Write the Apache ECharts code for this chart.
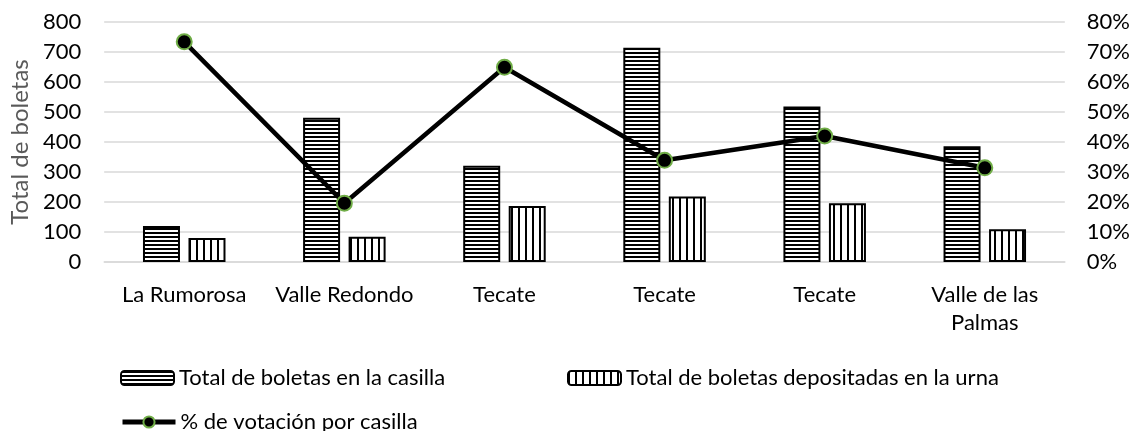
<!DOCTYPE html>
<html>
<head>
<meta charset="utf-8">
<script src="https://cdn.jsdelivr.net/npm/echarts@6/dist/echarts.min.js"></script>
<style>
  html, body { margin: 0; padding: 0; background: #fff; }
  #chart { width: 1133px; height: 431px; }
</style>
</head>
<body>
<div id="chart"></div>
<script>
// Polling stations
const categories = ['La Rumorosa', 'Valle Redondo', 'Tecate', 'Tecate', 'Tecate', 'Valle de las Palmas'];
// Ballots in each station
const totalBoletas = [120, 481, 321, 714, 518, 386];
// Ballots cast into the ballot box
const depositadas = [80, 84, 187, 218, 196, 109];
// Turnout per station (fraction)
const votacion = [0.734, 0.196, 0.649, 0.339, 0.42, 0.314];
// Axis ticks
const leftTicks = [0, 100, 200, 300, 400, 500, 600, 700, 800];
const rightTicks = [0, 0.1, 0.2, 0.3, 0.4, 0.5, 0.6, 0.7, 0.8];

const seriesNames = [
  'Total de boletas en la casilla',
  'Total de boletas depositadas en la urna',
  '% de votación por casilla'
];

// Striped fills: horizontal lines and vertical lines
function stripePattern(horizontal) {
  const c = document.createElement('canvas');
  if (horizontal) {
    c.width = 8; c.height = 4;
    const g = c.getContext('2d');
    g.fillStyle = '#fff'; g.fillRect(0, 0, 8, 4);
    g.fillStyle = '#000'; g.fillRect(0, 0, 8, 2);
  } else {
    c.width = 7; c.height = 8;
    const g = c.getContext('2d');
    g.fillStyle = '#fff'; g.fillRect(0, 0, 7, 8);
    g.fillStyle = '#000'; g.fillRect(0, 0, 2, 8);
  }
  return { image: c, repeat: 'repeat' };
}

const FONT = 'Lato';
const FS = 22;
const chart = echarts.init(document.getElementById('chart'), null, { renderer: 'canvas' });

const legendBase = {
  itemWidth: 53,
  itemHeight: 14,
  itemGap: 0,
  textStyle: { fontFamily: FONT, fontSize: FS, color: '#000' },
  selectedMode: false
};

chart.setOption({
  animation: false,
  backgroundColor: '#fff',
  grid: { left: 103, right: 65, top: 22, bottom: 169 },
  legend: [
    Object.assign({}, legendBase, { data: [seriesNames[0]], left: 115, top: 362 }),
    Object.assign({}, legendBase, { data: [seriesNames[1]], left: 562, top: 362 }),
    Object.assign({}, legendBase, {
      data: [seriesNames[2]], left: 115, top: 406,
      lineStyle: { color: '#000', width: 5 },
      itemStyle: { color: '#000', borderColor: '#70ad47', borderWidth: 2 }
    })
  ],
  xAxis: {
    type: 'category',
    data: categories,
    axisLine: { lineStyle: { color: '#d9d9d9', width: 1.5 } },
    axisTick: { show: false },
    axisLabel: {
      fontFamily: FONT, fontSize: FS, color: '#000', margin: 19, lineHeight: 28,
      interval: 0,
      formatter: function (v) {
        if (v.length > 15) {
          const i = v.lastIndexOf(' ');
          return v.slice(0, i) + '\n' + v.slice(i + 1);
        }
        return v;
      }
    }
  },
  yAxis: [
    {
      type: 'value', min: leftTicks[0], max: leftTicks[leftTicks.length - 1], interval: 100,
      name: 'Total de boletas', nameLocation: 'middle', nameGap: 71, nameRotate: 90,
      nameTextStyle: { fontFamily: FONT, fontSize: 24, color: '#595959' },
      axisLine: { show: false }, axisTick: { show: false },
      axisLabel: { fontFamily: FONT, fontSize: FS, color: '#000', margin: 23 },
      splitLine: { lineStyle: { color: '#d9d9d9', width: 1.5 } }
    },
    {
      type: 'value', min: rightTicks[0], max: rightTicks[rightTicks.length - 1], interval: 0.1,
      axisLine: { show: false }, axisTick: { show: false },
      axisLabel: {
        fontFamily: FONT, fontSize: FS, color: '#000', margin: 22,
        formatter: function (v) { return Math.round(v * 100) + '%'; }
      },
      splitLine: { show: false }
    }
  ],
  series: [
    {
      name: seriesNames[0], type: 'bar', data: totalBoletas,
      barWidth: 37, barGap: '23%',
      itemStyle: { color: stripePattern(true), borderColor: '#000', borderWidth: 2 }
    },
    {
      name: seriesNames[1], type: 'bar', data: depositadas,
      barWidth: 37,
      itemStyle: { color: stripePattern(false), borderColor: '#000', borderWidth: 2 }
    },
    {
      name: seriesNames[2], type: 'line', yAxisIndex: 1, data: votacion,
      symbol: 'circle', symbolSize: 15,
      lineStyle: { color: '#000', width: 4.5 },
      itemStyle: { color: '#000', borderColor: '#70ad47', borderWidth: 2 },
      z: 5
    }
  ]
});
</script>
</body>
</html>
